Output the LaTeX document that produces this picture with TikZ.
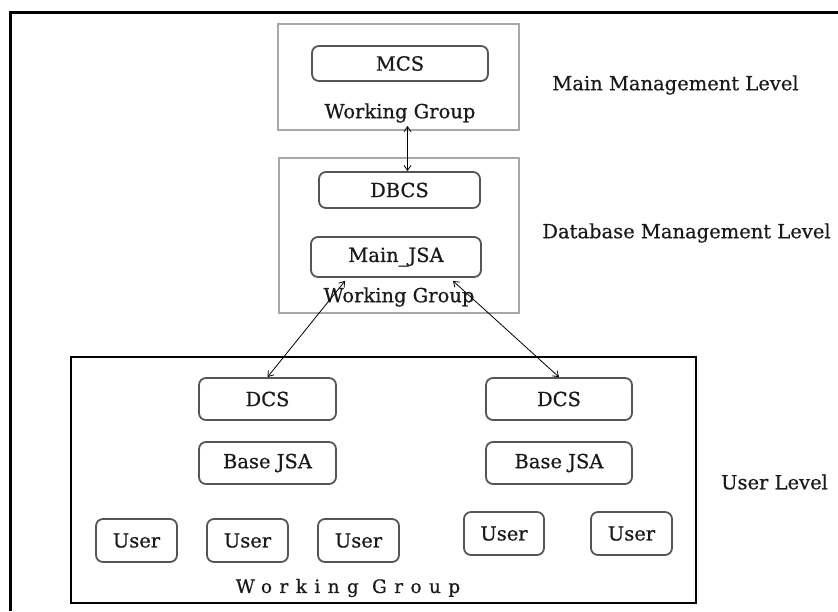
\documentclass[tikz,border=0pt]{standalone}
\usepackage{fontspec}
\setmainfont[FakeBold=0.6]{DejaVu Serif}
\usetikzlibrary{arrows.meta,calc}
\definecolor{boxline}{HTML}{555555}
\definecolor{frameline}{HTML}{A8A8A8}
\definecolor{txt}{HTML}{1A1A1A}
\begin{document}
\begin{tikzpicture}[x=1pt,y=-1pt,
  every node/.style={font=\fontsize{19.5}{22}\selectfont, text=txt},
  rbox/.style={draw=boxline, line width=1.8pt, rounded corners=7pt, inner sep=0pt, fill=white},
  gframe/.style={draw=frameline, line width=2pt, inner sep=0pt},
  bframe/.style={draw=black, line width=2.5pt, inner sep=0pt},
  lbl/.style={inner sep=0pt},
  arr/.style={line width=0.8pt, {Straight Barb[length=5pt,width=7pt]}-{Straight Barb[length=5pt,width=7pt]}}
]
\useasboundingbox (0,0) rectangle (838,611);
% outer frame (only left and top edges visible)
\coordinate (fa) at (10,611);
\coordinate (fb) at (10,12);
\coordinate (fc) at (838,12);
\draw[line width=3pt] (fa) -- (fb) -- (fc);

% main management level
\node[gframe, minimum width=241, minimum height=106] (mm) at (398.5,77) {};
\node[rbox, minimum width=176, minimum height=35] (mcs) at (400,63.5) {MCS};
\node[lbl] (wg1) at (400,113) {Working Group};

% database management level
\node[gframe, minimum width=240, minimum height=155] (db) at (399,235.5) {};
\node[rbox, minimum width=161, minimum height=36] (dbcs) at (399.5,190) {DBCS};
\node[rbox, minimum width=170, minimum height=40] (mjsa) at (396,257) {Main\_JSA};
\node[lbl] (wg2) at (399,297) {Working Group};

% user level
\node[bframe, minimum width=625, minimum height=246] (ul) at (383.5,480) {};
\node[rbox, minimum width=137, minimum height=42] (dcsL) at (267.5,399) {DCS};
\node[rbox, minimum width=137, minimum height=42] (bjsaL) at (267.5,463) {Base JSA};
\node[rbox, minimum width=81, minimum height=43] (u1) at (136.5,540.5) {User};
\node[rbox, minimum width=81, minimum height=43] (u2) at (247.5,540.5) {User};
\node[rbox, minimum width=81, minimum height=43] (u3) at (358.5,540.5) {User};
\node[rbox, minimum width=146, minimum height=42] (dcsR) at (559,399) {DCS};
\node[rbox, minimum width=146, minimum height=42] (bjsaR) at (559,463) {Base JSA};
\node[rbox, minimum width=80, minimum height=43] (u4) at (504,533.5) {User};
\node[rbox, minimum width=81, minimum height=43] (u5) at (631.5,533.5) {User};
\node[lbl, font=\fontsize{18.5}{22}\selectfont\addfontfeature{LetterSpace=40}] (wg3) at (348,588) {Working Group};

% level labels
\node[lbl] (l1) at (675.5,85) {Main Management Level};
\node[lbl] (l2) at (686.5,233) {Database Management Level};
\node[lbl] (l3) at (774.5,482) {User Level};

% connectors
\draw[arr] ($(dbcs.north |- mm.south)+(8pt,5pt)$) -- ($(dbcs.north)+(8pt,0pt)$);
\draw[arr] ($(mjsa.south)+(-51pt,-3pt)$) -- (dcsL.north);
\draw[arr] ($(mjsa.south)+(57pt,-3pt)$) -- (dcsR.north);
\end{tikzpicture}
\end{document}
